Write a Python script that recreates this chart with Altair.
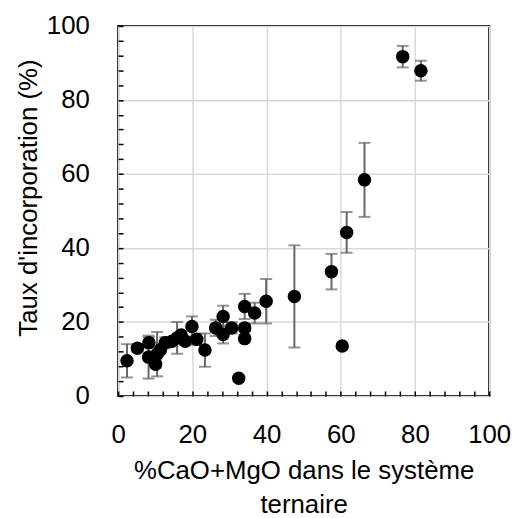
import altair as alt
import pandas as pd

# Data
cao_mgo = [2.4, 5.2, 8.2, 8.3, 10.1, 10.5, 11.4, 12.7, 14.5, 15.9, 17.0, 18.1,
           19.9, 21.2, 23.4, 26.3, 28.3, 28.3, 30.6, 32.5, 34.1, 34.1, 34.1,
           36.8, 39.9, 47.5, 57.5, 60.4, 61.6, 66.4, 76.7, 81.6]
taux = [9.5, 12.9, 10.5, 14.4, 8.6, 11.3, 12.5, 14.4, 14.8, 15.7, 16.5, 14.8,
        18.8, 15.3, 12.4, 18.4, 21.5, 16.6, 18.4, 4.8, 24.2, 18.4, 15.5,
        22.4, 25.6, 26.9, 33.6, 13.5, 44.2, 58.4, 91.7, 87.9]
erreur = [4.5, 1.0, 5.8, 1.5, 1.0, 6.0, 1.0, 1.5, 1.0, 4.3, 1.0, 1.0,
          2.7, 1.5, 4.5, 2.2, 2.9, 2.4, 1.5, 0.0, 3.4, 1.0, 1.0,
          2.8, 6.0, 13.8, 4.8, 0.0, 5.5, 10.0, 2.9, 2.7]

tick_values = list(range(0, 101, 4))
x_title = ["%CaO+MgO dans le système", "ternaire"]
y_title = "Taux d'incorporation (%)"

df = pd.DataFrame({"x": cao_mgo, "y": taux, "err": erreur})
df["lo"] = df["y"] - df["err"]
df["hi"] = df["y"] + df["err"]
eb = df[df["err"] > 0]

FONT = "Liberation Sans"
grid_cond = {"condition": {"test": "datum.value % 20 == 0", "value": 1}, "value": 0}
label_expr = "datum.value % 20 == 0 ? datum.label : ''"

common = dict(
    values=tick_values, tickCount=60, labelExpr=label_expr, gridOpacity=grid_cond,
    grid=True, gridColor="#d9d9d9", gridWidth=1.5, domain=False,
    ticks=True, tickColor="black", tickWidth=1.5, tickSize=5, offset=-5,
    labelFont=FONT, labelFontSize=26, labelColor="black",
    labelFlush=False, labelOverlap=False, labelBound=False,
    titleFont=FONT, titleFontSize=26, titleFontWeight="normal", titleColor="black",
)

xaxis = alt.Axis(title=x_title, labelPadding=26, titleLineHeight=34, titleY=67, **common)
yaxis = alt.Axis(title=y_title, labelPadding=29, titleX=-82, titleY=173, **common)

xs = alt.Scale(domain=[0, 100], nice=False, zero=False)
ys = alt.Scale(domain=[0, 100], nice=False, zero=False)

base = alt.Chart(df)

bars = alt.Chart(eb).mark_rule(color="#666666", strokeWidth=2).encode(
    x=alt.X("x:Q", scale=xs, axis=xaxis),
    y=alt.Y("lo:Q", scale=ys, axis=yaxis),
    y2="hi:Q",
)
cap_lo = alt.Chart(eb).mark_tick(color="#666666", orient="horizontal", size=12, thickness=2).encode(
    x=alt.X("x:Q", scale=xs), y=alt.Y("lo:Q", scale=ys)
)
cap_hi = alt.Chart(eb).mark_tick(color="#666666", orient="horizontal", size=12, thickness=2).encode(
    x=alt.X("x:Q", scale=xs), y=alt.Y("hi:Q", scale=ys)
)
points = base.mark_circle(color="black", opacity=1, size=185).encode(
    x=alt.X("x:Q", scale=xs), y=alt.Y("y:Q", scale=ys)
)

chart = alt.layer(bars, cap_lo, cap_hi, points).properties(
    width=374, height=373,
    autosize=alt.AutoSizeParams(type="none"),
    padding={"left": 111, "top": 16, "right": 22, "bottom": 130},
    background="white",
).configure_view(stroke="black", strokeWidth=2)

chart.save("out.html", embed_options={"renderer": "svg", "actions": False})
